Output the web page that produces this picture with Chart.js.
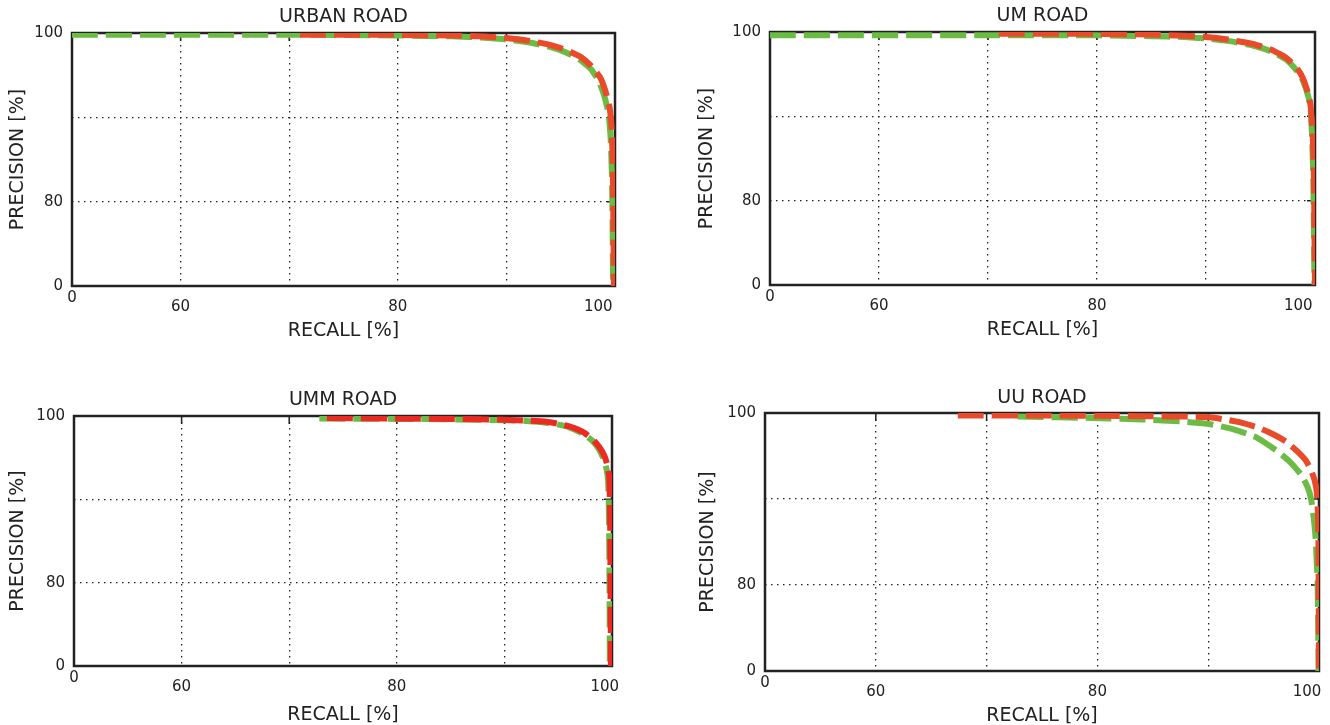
<!DOCTYPE html>
<html>
<head>
<meta charset="utf-8">
<title>Precision / recall - road benchmarks</title>
<script src="https://cdn.jsdelivr.net/npm/chart.js@4.4.1/dist/chart.umd.min.js"></script>
<style>
  html, body { margin: 0; padding: 0; background: #fff; overflow: hidden; }
  #wrap { position: relative; width: 1330px; height: 725px; overflow: hidden; }
  #wrap canvas { position: absolute; }
</style>
</head>
<body>
<div id="wrap">
  <canvas id="c-urban" width="665" height="362" style="left:0;top:0"></canvas>
  <canvas id="c-um" width="665" height="362" style="left:665px;top:0"></canvas>
  <canvas id="c-umm" width="665" height="380" style="left:0;top:362px"></canvas>
  <canvas id="c-uu" width="665" height="380" style="left:665px;top:362px"></canvas>
</div>
<script>
// axis ticks (the original figure prints "0" for the cut-off 50 / 70 labels)
const xTicks = [50, 60, 70, 80, 90, 100];
const xTickLabels = ['0', '60', '', '80', '', '100'];
const yTicks = [70, 80, 90, 100];
const yTickLabels = ['0', '80', '', '100'];

// URBAN ROAD
const urbanRedRecall = [71, 80, 85, 88, 90, 92, 94, 95.5, 96.8, 97.8, 98.6, 99.1, 99.5, 99.7, 99.8, 99.85, 99.9];
const urbanRedPrec   = [99.8, 99.78, 99.7, 99.58, 99.4, 99.1, 98.6, 98.0, 97.2, 96.1, 94.8, 93.2, 91.2, 88.5, 84, 78, 70];
const urbanGreenRecall = [50, 70, 80, 85, 88, 90, 92, 94, 95.5, 96.8, 97.8, 98.5, 99.0, 99.4, 99.6, 99.72, 99.78, 99.82];
const urbanGreenPrec   = [99.8, 99.8, 99.7, 99.6, 99.45, 99.25, 98.9, 98.35, 97.7, 96.8, 95.7, 94.3, 92.6, 90.5, 87.5, 83, 77, 70];

// UM ROAD
const umRedRecall = [71, 80, 85, 88, 90, 92, 94.3, 96, 97.4, 98.4, 98.9, 99.4, 99.6, 99.8, 99.9, 99.95, 100];
const umRedPrec   = [99.8, 99.78, 99.7, 99.55, 99.4, 99.1, 98.6, 97.9, 96.9, 95.6, 94.5, 92.6, 91.2, 87.5, 83, 76, 70];
const umGreenRecall = [50, 70, 80, 85, 88, 90, 92, 94.3, 96, 97.4, 98.4, 98.9, 99.4, 99.6, 99.75, 99.85, 99.9, 99.95];
const umGreenPrec   = [99.6, 99.6, 99.6, 99.5, 99.4, 99.25, 98.95, 98.4, 97.7, 96.7, 95.3, 94.2, 92.3, 90.8, 87, 82, 76, 70];

// UMM ROAD
const ummRedRecall = [73.5, 80, 85, 90, 92, 93.9, 95.3, 96.4, 97.4, 98.2, 98.8, 99.3, 99.6, 99.75, 99.82, 99.86, 99.9];
const ummRedPrec   = [99.75, 99.7, 99.65, 99.55, 99.45, 99.3, 99.0, 98.6, 98.0, 97.2, 96.3, 95.2, 94.0, 92.5, 88.5, 80, 70];
const ummGreenRecall = [72.8, 80, 85, 90, 92, 93.9, 95.3, 96.4, 97.4, 98.2, 98.8, 99.2, 99.5, 99.65, 99.72, 99.77, 99.8];
const ummGreenPrec   = [99.7, 99.65, 99.6, 99.5, 99.4, 99.2, 98.9, 98.45, 97.8, 97.0, 96.0, 94.9, 93.6, 92, 88, 80, 70];

// UU ROAD
const uuRedRecall = [67.4, 75, 80, 85, 88, 90.2, 91.5, 92.9, 94.5, 95.9, 97.0, 98.0, 98.8, 99.3, 99.6, 99.8, 99.9, 99.95, 100];
const uuRedPrec   = [99.7, 99.7, 99.68, 99.62, 99.58, 99.5, 99.25, 98.9, 98.3, 97.5, 96.7, 95.6, 94.5, 93.3, 92.2, 90.8, 88.5, 85, 70];
const uuGreenRecall = [72.8, 80.3, 84, 87.8, 90.2, 92.3, 94.3, 96.2, 97.4, 98.4, 99.0, 99.3, 99.55, 99.7, 99.8, 99.87, 99.92, 99.96];
const uuGreenPrec   = [99.6, 99.4, 99.25, 99.0, 98.7, 98.1, 97.2, 95.6, 94.3, 92.8, 91.3, 89.9, 87.5, 85.3, 82.5, 80.6, 76, 70];

const FONT = "'DejaVu Sans', sans-serif";
const INK = '#222';
const GREEN = '#6bbb45';

// layout of each panel, in canvas pixels
const panels = [
  { id: 'c-urban', title: 'URBAN ROAD', redX: urbanRedRecall, redY: urbanRedPrec, greenX: urbanGreenRecall, greenY: urbanGreenPrec,
    red: '#e84a2a', w: 665, h: 362, box: { left: 72, right: 615, top: 33, bottom: 286 },
    titlePad: { top: 5.6, bottom: 4.6 }, xTitlePad: 19.6, yTitlePad: 6.6, lastShift: 7 },
  { id: 'c-um', title: 'UM ROAD', redX: umRedRecall, redY: umRedPrec, greenX: umGreenRecall, greenY: umGreenPrec,
    red: '#e84a2a', w: 665, h: 362, box: { left: 105, right: 650, top: 32, bottom: 285 },
    titlePad: { top: 4.6, bottom: 4.6 }, xTitlePad: 20.6, yTitlePad: 30.6, lastShift: 7 },
  { id: 'c-umm', title: 'UMM ROAD', redX: ummRedRecall, redY: ummRedPrec, greenX: ummGreenRecall, greenY: ummGreenPrec,
    red: '#ec2a24', w: 665, h: 380, box: { left: 74, right: 612, top: 54, bottom: 304 },
    titlePad: { top: 26.6, bottom: 4.6 }, xTitlePad: 15.6, yTitlePad: 6.6, lastShift: 3 },
  { id: 'c-uu', title: 'UU ROAD', redX: uuRedRecall, redY: uuRedPrec, greenX: uuGreenRecall, greenY: uuGreenPrec,
    red: '#e84a2a', w: 665, h: 380, box: { left: 100, right: 654, top: 51, bottom: 309 },
    titlePad: { top: 24.6, bottom: 3.6 }, xTitlePad: 14.6, yTitlePad: 31.6, lastShift: 5 }
];

function toPoints(xs, ys) { return xs.map((x, i) => ({ x, y: ys[i] })); }

// frame round the plot plus the inward tick marks on top and right
const framePlugin = {
  id: 'frame',
  beforeDatasetsDraw(chart) {
    const { ctx, chartArea: a, scales } = chart;
    ctx.save();
    ctx.strokeStyle = INK;
    ctx.lineWidth = 2.5;
    ctx.strokeRect(a.left, a.top, a.right - a.left, a.bottom - a.top);
    ctx.lineWidth = 1.5;
    ctx.beginPath();
    xTicks.slice(1, -1).forEach(v => {
      const px = scales.x.getPixelForValue(v);
      ctx.moveTo(px, a.top); ctx.lineTo(px, a.top + 8);
    });
    yTicks.slice(1, -1).forEach(v => {
      const py = scales.y.getPixelForValue(v);
      ctx.moveTo(a.right, py); ctx.lineTo(a.right - 8, py);
    });
    ctx.stroke();
    ctx.restore();
  }
};

function gridColor(ctx, min, max) {
  const v = ctx.tick && ctx.tick.value;
  return (v === min || v === max) ? 'rgba(0,0,0,0)' : INK;
}

function makeChart(p) {
  const lineStyle = { borderWidth: 6, borderDash: [26, 8], pointRadius: 0, fill: false, tension: 0.15 };
  return new Chart(document.getElementById(p.id), {
    type: 'line',
    data: {
      datasets: [
        { label: 'red', data: toPoints(p.redX, p.redY), borderColor: p.red, ...lineStyle },
        { label: 'green', data: toPoints(p.greenX, p.greenY), borderColor: GREEN, ...lineStyle }
      ]
    },
    options: {
      responsive: false,
      animation: false,
      events: [],
      layout: { padding: { left: 0, top: 0, right: p.w - p.box.right, bottom: 0 } },
      plugins: {
        legend: { display: false },
        tooltip: { enabled: false },
        title: {
          display: true, text: p.title, fullSize: false, color: INK,
          font: { family: FONT, size: 19, weight: 'normal' }, padding: p.titlePad
        }
      },
      scales: {
        x: {
          type: 'linear', min: 50, max: 100,
          afterFit: s => { s.height = p.h - p.box.bottom; s.paddingLeft = 0; s.paddingRight = 0; },
          afterBuildTicks: s => { s.ticks = xTicks.map(v => ({ value: v })); },
          ticks: {
            autoSkip: false, maxRotation: 0, padding: 7.5, color: INK,
            font: { family: FONT, size: 15, lineHeight: 0.6 },
            callback: (v, i) => {
              const t = xTickLabels[i];
              if (i === 0) return t;
              if (i === xTicks.length - 1) return ['', t + ' '.repeat(p.lastShift)];
              return ['', t];
            }
          },
          grid: { color: c => gridColor(c, 50, 100), lineWidth: 1.3, drawTicks: false, borderDash: [1.5, 4.5] },
          border: { display: false, dash: [1.5, 4.5] },
          title: {
            display: true, text: 'RECALL [%]', color: INK,
            font: { family: FONT, size: 19 }, padding: { top: 0, bottom: p.xTitlePad }
          }
        },
        y: {
          type: 'linear', min: 70, max: 100,
          afterFit: s => { s.width = p.box.left; s.paddingTop = 0; s.paddingBottom = 0; },
          afterBuildTicks: s => { s.ticks = yTicks.map(v => ({ value: v })); },
          ticks: {
            autoSkip: false, padding: 9, color: INK,
            font: { family: FONT, size: 15 },
            callback: (v, i) => yTickLabels[i]
          },
          grid: { color: c => gridColor(c, 70, 100), lineWidth: 1.3, drawTicks: false, borderDash: [1.5, 4.5] },
          border: { display: false, dash: [1.5, 4.5] },
          title: {
            display: true, text: 'PRECISION [%]', color: INK,
            font: { family: FONT, size: 19 }, padding: { top: p.yTitlePad, bottom: 0 }
          }
        }
      }
    },
    plugins: [framePlugin]
  });
}

panels.forEach(makeChart);
</script>
</body>
</html>
